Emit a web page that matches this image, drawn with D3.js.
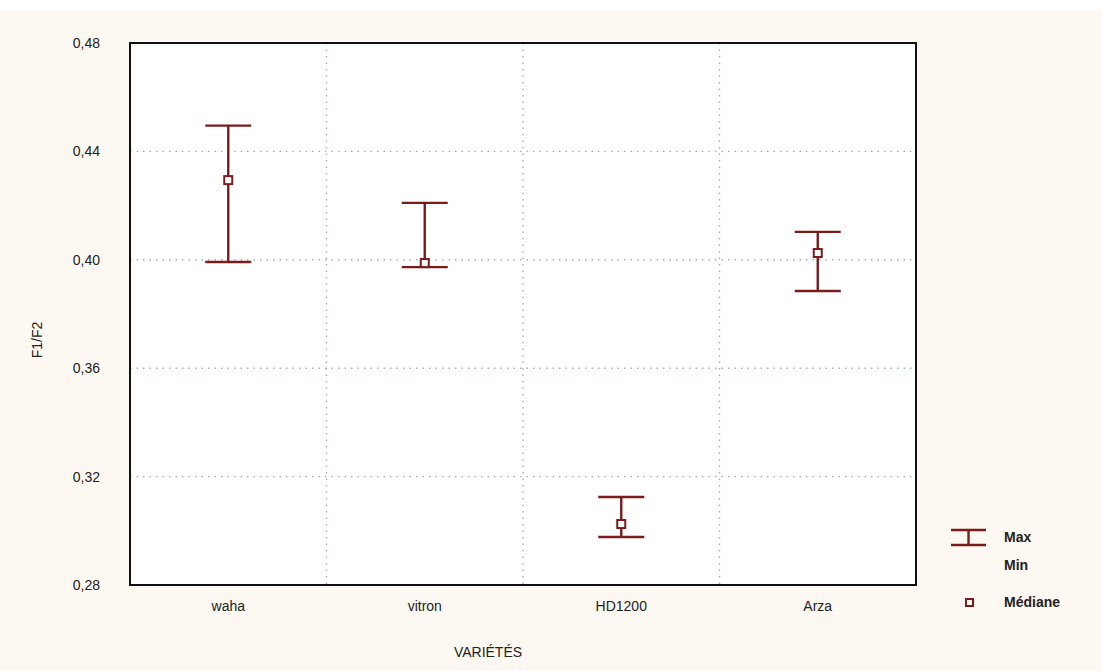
<!DOCTYPE html>
<html><head><meta charset="utf-8">
<script src="https://cdn.jsdelivr.net/npm/d3@7"></script>
<style>body{margin:0;background:#fff}svg{display:block}text{font-family:"Liberation Sans",Arial,sans-serif}</style>
</head><body><svg id="c" width="1102" height="671"></svg>
<script>
const categories = ["waha", "vitron", "HD1200", "Arza"];
const maxValues = [0.4495, 0.4210, 0.3125, 0.4103];
const medianValues = [0.4294, 0.3988, 0.3025, 0.4025];
const minValues = [0.3992, 0.3973, 0.2977, 0.3885];
const yTicks = [0.28, 0.32, 0.36, 0.40, 0.44, 0.48];
const legendLabels = ["Max", "Min", "Médiane"];

const svg = d3.select("#c");
const W = 1102, H = 671;
const m = {l: 130, r: 916, t: 43, b: 585};
const col = "#7b1c1c";

svg.append("rect").attr("x",0).attr("y",10).attr("width",W).attr("height",H-10).attr("fill","#fdf8f1");
svg.append("rect").attr("x",m.l).attr("y",m.t).attr("width",m.r-m.l).attr("height",m.b-m.t).attr("fill","#fff");

const x = d3.scaleBand().domain(categories).range([m.l, m.r]).padding(0);
const y = d3.scaleLinear().domain([0.28, 0.48]).range([m.b, m.t]);
const fmt = d => d3.format(".2f")(d).replace(".", ",");

// grid
const g = svg.append("g");
g.selectAll(".hg").data(yTicks.filter(t => t > 0.28 && t < 0.48)).join("line")
  .attr("x1", m.l).attr("x2", m.r).attr("y1", d => y(d)).attr("y2", d => y(d))
  .attr("stroke", "#9fb2b2").attr("stroke-width", 1.4).attr("stroke-dasharray", "1.5,5");
g.selectAll(".vg").data(categories.slice(1)).join("line")
  .attr("x1", d => x(d)).attr("x2", d => x(d)).attr("y1", m.t).attr("y2", m.b)
  .attr("stroke", "#9fb2b2").attr("stroke-width", 1.4).attr("stroke-dasharray", "1.5,5");

// axes
const yAxis = d3.axisLeft(y).tickValues(yTicks).tickFormat(fmt).tickSize(0).tickPadding(30);
const ya = svg.append("g").attr("transform", `translate(${m.l},0)`).call(yAxis);
ya.select(".domain").remove();
ya.selectAll("text").attr("font-size", 14).attr("fill", "#222");

const xAxis = d3.axisBottom(x).tickSize(0).tickPadding(16);
const xa = svg.append("g").attr("transform", `translate(0,${m.b})`).call(xAxis);
xa.select(".domain").remove();
xa.selectAll("text").attr("font-size", 14).attr("fill", "#222");

svg.append("rect").attr("x",m.l).attr("y",m.t).attr("width",m.r-m.l).attr("height",m.b-m.t)
  .attr("fill","none").attr("stroke","#111").attr("stroke-width",2);

svg.append("text").attr("transform", "translate(42,340) rotate(-90)").attr("text-anchor","middle")
  .attr("font-size", 14).attr("fill","#222").text("F1/F2");
svg.append("text").attr("x", 488).attr("y", 657).attr("text-anchor","middle")
  .attr("font-size", 14).attr("fill","#222").text("VARIÉTÉS");

// error bars
const capW = 23;
const data = categories.map((c, i) => ({c, max: maxValues[i], med: medianValues[i], min: minValues[i]}));
const eb = svg.append("g").attr("stroke", col).attr("stroke-width", 2.4).attr("fill", "none");
data.forEach(d => {
  const cx = x(d.c) + x.bandwidth() / 2;
  eb.append("line").attr("x1", cx).attr("x2", cx).attr("y1", y(d.max)).attr("y2", y(d.min));
  eb.append("line").attr("x1", cx - capW).attr("x2", cx + capW).attr("y1", y(d.max)).attr("y2", y(d.max));
  eb.append("line").attr("x1", cx - capW).attr("x2", cx + capW).attr("y1", y(d.min)).attr("y2", y(d.min));
  eb.append("rect").attr("x", cx - 4).attr("y", y(d.med) - 4).attr("width", 8).attr("height", 8)
    .attr("fill", "#fff").attr("stroke-width", 2);
});

// legend
const lg = svg.append("g");
lg.append("line").attr("x1", 951).attr("x2", 986).attr("y1", 530).attr("y2", 530).attr("stroke", col).attr("stroke-width", 2.4);
lg.append("line").attr("x1", 951).attr("x2", 986).attr("y1", 545).attr("y2", 545).attr("stroke", col).attr("stroke-width", 2.4);
lg.append("line").attr("x1", 968.5).attr("x2", 968.5).attr("y1", 530).attr("y2", 545).attr("stroke", col).attr("stroke-width", 2.4);
lg.append("rect").attr("x", 966).attr("y", 599).attr("width", 7).attr("height", 7).attr("fill", "#fff").attr("stroke", col).attr("stroke-width", 2);
const ly = [542, 570, 607];
lg.selectAll("text").data(legendLabels).join("text").attr("x", 1004).attr("y", (d, i) => ly[i])
  .attr("font-size", 14).attr("font-weight", "bold").attr("fill", "#222").text(d => d);
</script></body></html>
